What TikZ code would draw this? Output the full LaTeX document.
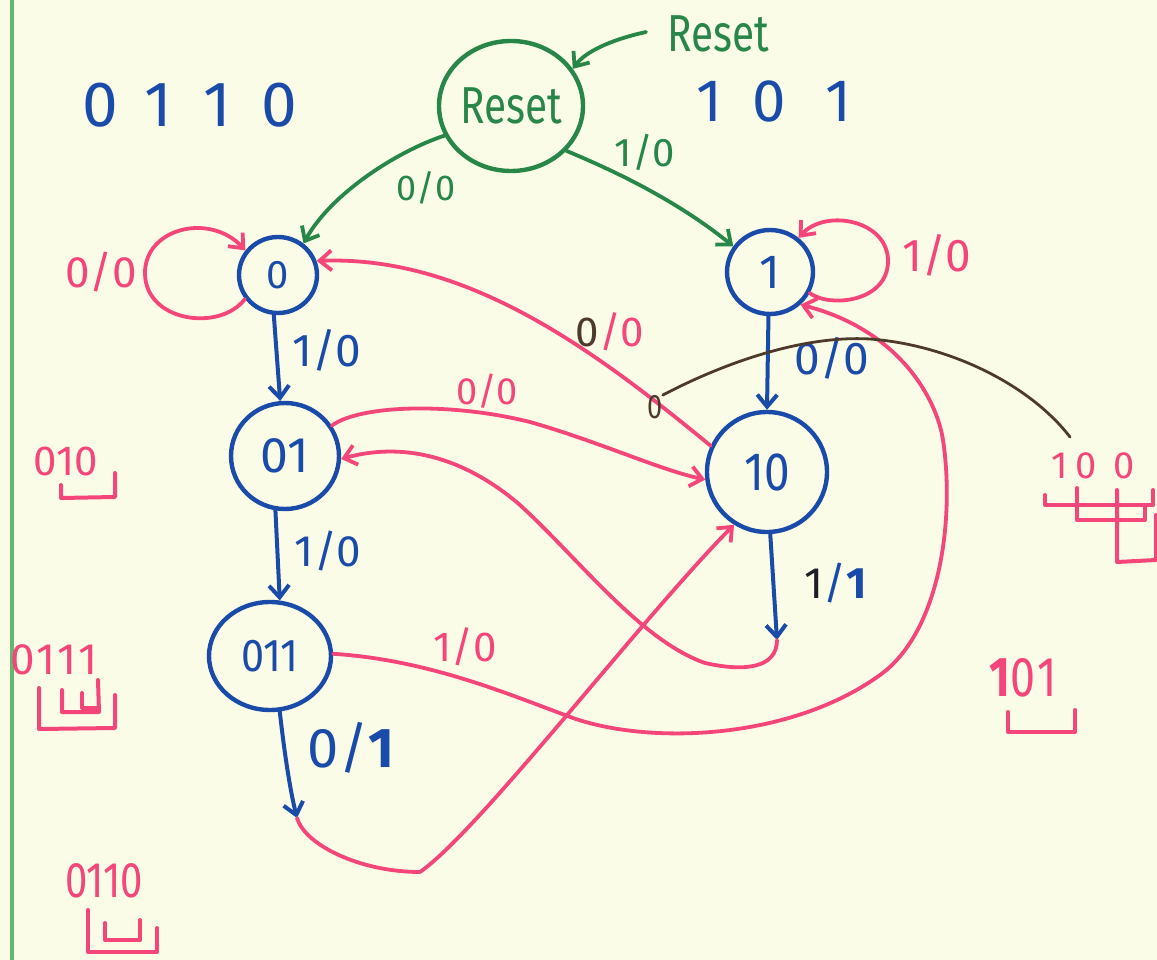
\documentclass[tikz,border=0pt]{standalone}
\usepackage{fontspec}
\setmainfont{Fira Sans}
\usetikzlibrary{arrows.meta,shapes.geometric}

\definecolor{paper}{RGB}{250,252,232}
\definecolor{inkblue}{RGB}{27,75,168}
\definecolor{inkgreen}{RGB}{40,135,72}
\definecolor{inkpink}{RGB}{245,70,122}
\definecolor{inkbrown}{RGB}{78,58,42}
\definecolor{inkblack}{RGB}{30,30,40}
\definecolor{margin}{RGB}{100,182,112}

\newcommand{\fsz}[1]{\fontsize{#1}{#1}\selectfont}
\newcommand{\nar}[2]{\scalebox{#1}[1]{#2}}

\tikzset{
  ink/.style={line width=4pt, line cap=round, line join=round},
  tipbarb/.style={-{Straight Barb[length=12pt,width=20pt]}},
  state/.style={ellipse, draw=inkblue, ink, line width=4.4pt, inner sep=0pt, text=inkblue},
  blueedge/.style={ink, draw=inkblue, tipbarb},
  greenedge/.style={ink, draw=inkgreen, line width=3.8pt, tipbarb},
  pinkedge/.style={ink, draw=inkpink, line width=3.8pt, tipbarb},
  bracket/.style={ink, draw=inkpink, line width=4pt},
  lab/.style={inner sep=0pt},
}

\begin{document}
\begin{tikzpicture}[x=1pt,y=-1pt]
  \fill[paper] (0,0) rectangle (1157,960);
  \useasboundingbox (0,0) rectangle (1157,960);

  % ruled margin of the notebook page
  \draw[margin, line width=3.4pt] (12,0) -- (12,960);

  % ---------- states ----------
  \node[state, draw=inkgreen, text=inkgreen, minimum width=144pt, minimum height=130pt,
        font={\fsz{52}}] (reset) at (511,106) {\nar{0.78}{Reset}};
  \node[state, minimum width=78pt, minimum height=76pt, font={\fsz{40}}] (s0) at (278,275) {0};
  \node[state, minimum width=86pt, minimum height=84pt, font={\fsz{48}}] (s1) at (770,272) {1};
  \node[state, minimum width=108pt, minimum height=106pt, font={\fsz{50}}] (s01) at (285,456) {01};
  \node[state, minimum width=120pt, minimum height=120pt, font={\fsz{54}}] (s10) at (767,472) {\nar{0.85}{10}};
  \node[state, minimum width=122pt, minimum height=108pt, font={\fsz{46}}] (s011) at (270,656) {\nar{0.9}{011}};

  % reset input
  \node[lab, text=inkgreen, font={\fsz{52}}] (rlab) at (718,34) {\nar{0.78}{Reset}};
  \coordinate (rin) at (646,32);
  \draw[greenedge] (rin) .. controls (610,40) and (585,52) .. (reset.31);

  % ---------- transitions out of Reset ----------
  \draw[greenedge] (reset.204) .. controls (395,152) and (330,195) .. (s0.51);
  \node[lab, text=inkgreen, font={\fsz{36}}] (g00) at (426,188) {0/0};
  \draw[greenedge] (reset.-39) .. controls (600,165) and (670,195) .. (s1.145);
  \node[lab, text=inkgreen, font={\fsz{40}}] (g10) at (645,152) {1/0};

  % ---------- self loops ----------
  \draw[pinkedge] (s0.216) .. controls (220,332) and (146,322) .. (145,274)
                  .. controls (144,228) and (210,212) .. (s0.143);
  \node[lab, text=inkpink, font={\fsz{44}}] (p00a) at (101,272) {0/0};
  \draw[pinkedge] (s1.-28) .. controls (830,308) and (887,302) .. (888,262)
                  .. controls (889,220) and (825,208) .. (s1.50);
  \node[lab, text=inkpink, font={\fsz{46}}] (p10a) at (937,255) {1/0};

  % ---------- straight transitions ----------
  \draw[blueedge] (s0.-96) -- (s01.95);
  \node[lab, text=inkblue, font={\fsz{46}}] (b10a) at (327,350) {1/0};
  \draw[blueedge] (s1.-92) -- (s10.90);
  \node[lab, text=inkblue, font={\fsz{46}}] (b00) at (832,358) {0/0};
  \draw[blueedge] (s01.-100) -- (s011.80);
  \node[lab, text=inkblue, font={\fsz{44}}] (b10b) at (328,551) {1/0};

  % ---------- 01 -> 10 ----------
  \draw[pinkedge] (s01.33) .. controls (360,405) and (450,402) .. (530,422)
                  .. controls (600,442) and (660,470) .. (s10.187);
  \node[lab, text=inkpink, font={\fsz{38}}] (p00b) at (487,391) {0/0};

  % ---------- 10 -> 0 ----------
  \draw[pinkedge] (s10.155) .. controls (600,355) and (470,255) .. (s0.20);
  \node[lab, text=inkpink, font={\fsz{42}}] (p00c) at (610,332) {\textcolor{inkbrown}{0}/0};

  % ---------- 10 -> 01 (output 1) ----------
  \coordinate (j1) at (777,640);
  \draw[blueedge] (s10.-87) -- (j1);
  \node[lab, text=inkblue, font={\fsz{44}}] (l11) at (836,583) {\textcolor{inkblack}{1}/\textbf{1}};
  \draw[pinkedge] (j1) .. controls (777,668) and (745,672) .. (705,663)
                  .. controls (640,640) and (580,560) .. (520,505)
                  .. controls (470,462) and (410,440) .. (s01.-3);

  % ---------- 011 -> 1 ----------
  \draw[pinkedge] (s011.2) .. controls (430,660) and (510,695) .. (573,718)
                  .. controls (650,745) and (790,740) .. (880,675)
                  .. controls (940,632) and (955,520) .. (943,440)
                  .. controls (937,400) and (900,330) .. (s1.-47);
  \node[lab, text=inkpink, font={\fsz{42}}] (p10b) at (465,647) {1/0};

  % ---------- 011 -> 10 (output 1) ----------
  \coordinate (j2) at (297,818);
  \draw[blueedge] (s011.-80) .. controls (284,750) and (290,790) .. (j2);
  \node[lab, text=inkblue, font={\fsz{56}}] (b01) at (351,748) {0/\textbf{1}};
  \draw[pinkedge] (j2) .. controls (305,845) and (360,872) .. (420,872)
                  .. controls (480,830) and (640,620) .. (s10.238);

  % ---------- overlap note in brown ----------
  \node[lab, text=inkbrown, font={\fsz{34}}] (bz) at (655,407) {\nar{0.8}{0}};
  \coordinate (bend) at (1070,437);
  \draw[ink, draw=inkbrown, line width=2.8pt] (bz.north east) .. controls (720,365) and (800,335) .. (870,339)
        .. controls (950,345) and (1030,385) .. (bend);

  % ---------- sequences being detected ----------
  \node[lab, text=inkblue, font={\fsz{64}}] (seqa) at (190,105) {0\hspace{26pt}1\hspace{32pt}1\hspace{30pt}0};
  \node[lab, text=inkblue, font={\fsz{60}}] (seqb) at (774,101) {1\hspace{30pt}0\hspace{39pt}1};

  % ---------- overlap checks in pink ----------
  \node[lab, text=inkpink, font={\fsz{42}}] (c010) at (66,461) {010};
  \draw[bracket] (61,485) -- (61,498) -- (115,497) -- (115,473);

  \node[lab, text=inkpink, font={\fsz{44}}] (c0111) at (54,660) {0\hspace{2pt}1\hspace{2pt}1\hspace{2pt}1};
  \draw[bracket] (82,693) -- (82,708) -- (97,708);
  \draw[bracket] (62,690) -- (62,712) -- (99,712) -- (98,680);
  \draw[bracket] (39,688) -- (39,729) -- (115,728) -- (115,695);

  \node[lab, text=inkpink, font={\fsz{50}}] (c0110) at (104,881) {\nar{0.8}{0110}};
  \draw[bracket] (105,923) -- (105,940) -- (140,940) -- (140,920);
  \draw[bracket] (88,910) -- (88,952) -- (157,952) -- (157,928);

  \node[lab, text=inkpink, font={\fsz{38}}] (c100) at (1093,466) {1\hspace{8pt}0\hspace{17pt}0};
  \draw[bracket] (1045,495) -- (1045,505) -- (1153,505) -- (1153,490);
  \draw[bracket] (1077,488) -- (1077,520) -- (1145,520) -- (1145,505);
  \draw[bracket] (1117,490) -- (1117,562) -- (1156,560) -- (1156,515);

  \node[lab, text=inkpink, font={\fsz{56}}] (c101) at (1023,678) {\nar{0.8}{\textbf{1}0\hspace{3pt}1}};
  \draw[bracket] (1008,712) -- (1008,732) -- (1075,732) -- (1075,710);
\end{tikzpicture}
\end{document}
